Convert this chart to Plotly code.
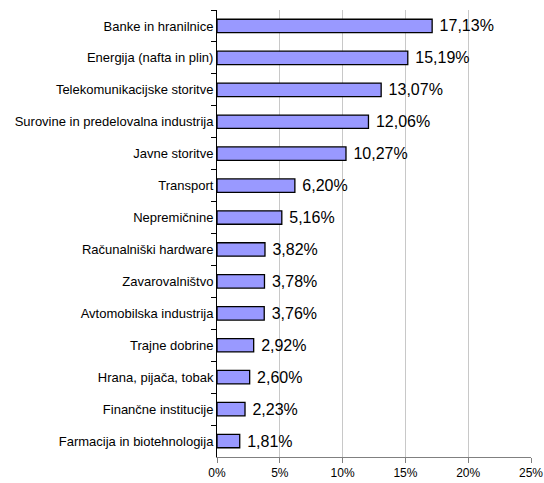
import plotly.graph_objects as go

categories = ["Banke in hranilnice", "Energija (nafta in plin)", "Telekomunikacijske storitve",
              "Surovine in predelovalna industrija", "Javne storitve", "Transport", "Nepremičnine",
              "Računalniški hardware", "Zavarovalništvo", "Avtomobilska industrija", "Trajne dobrine",
              "Hrana, pijača, tobak", "Finančne institucije", "Farmacija in biotehnologija"]
values = [17.13, 15.19, 13.07, 12.06, 10.27, 6.20, 5.16, 3.82, 3.78, 3.76, 2.92, 2.60, 2.23, 1.81]
x_ticks = [0, 5, 10, 15, 20, 25]
x_tick_labels = ["0%", "5%", "10%", "15%", "20%", "25%"]

labels = ["\u00a0" + f"{v:.2f}".replace(".", ",") + "%" for v in values]

fig = go.Figure(go.Bar(
    x=values, y=categories, orientation="h",
    marker=dict(color="#9999FF", line=dict(color="black", width=1.3)),
    width=0.42,
    text=labels, textposition="outside", cliponaxis=False, constraintext="none",
    textfont=dict(family="Liberation Sans, Arial", size=16, color="black"),
    hoverinfo="skip",
))

fig.update_layout(
    width=544, height=483,
    margin=dict(l=217, r=13, t=10, b=26),
    paper_bgcolor="white", plot_bgcolor="white",
    font=dict(family="Liberation Sans, Arial", size=13, color="black"),
    showlegend=False,
    xaxis=dict(range=[0, 25], tickvals=x_ticks, ticktext=x_tick_labels,
               showgrid=True, gridcolor="#C8C8C8", gridwidth=1,
               showline=True, linecolor="#808080", linewidth=1,
               ticks="outside", ticklen=5, tickcolor="#808080",
               tickfont=dict(size=12), zeroline=False, fixedrange=True,
               automargin=False),
    yaxis=dict(autorange="reversed", type="category",
               showline=True, linecolor="black", linewidth=1,
               ticks="outside", ticklen=5, tickcolor="black", tickson="boundaries",
               tickfont=dict(size=13), showgrid=False, fixedrange=True,
               automargin=False),
)

fig.write_html("out.html", config={"displayModeBar": False},
               post_script="document.body.style.margin='0';document.body.style.overflow='hidden';")
